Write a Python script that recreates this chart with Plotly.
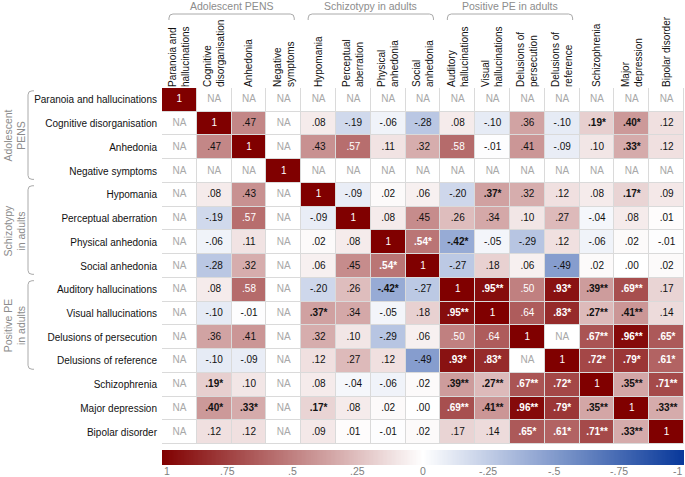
import numpy as np
import plotly.graph_objects as go

# ---------------- data ----------------
row_labels = [
    "Paranoia and hallucinations", "Cognitive disorganisation", "Anhedonia",
    "Negative symptoms", "Hypomania", "Perceptual aberration", "Physical anhedonia",
    "Social anhedonia", "Auditory hallucinations", "Visual hallucinations",
    "Delusions of persecution", "Delusions of reference", "Schizophrenia",
    "Major depression", "Bipolar disorder",
]
col_labels = [
    "Paranoia and<br>hallucinations", "Cognitive<br>disorganisation", "Anhedonia",
    "Negative<br>symptoms", "Hypomania", "Perceptual<br>aberration", "Physical<br>anhedonia",
    "Social<br>anhedonia", "Auditory<br>hallucinations", "Visual<br>hallucinations",
    "Delusions of<br>persecution", "Delusions of<br>reference", "Schizophrenia",
    "Major<br>depression", "Bipolar disorder",
]
group_names = ["Adolescent PENS", "Schizotypy in adults", "Positive PE in adults"]
group_side_names = ["Adolescent<br>PENS", "Schizotypy<br>in adults", "Positive PE<br>in adults"]
group_start = [0, 4, 8]
group_end = [3, 7, 11]

N = None
correlations = [
    [1, N, N, N, N, N, N, N, N, N, N, N, N, N, N],
    [N, 1, .47, N, .08, -.19, -.06, -.28, .08, -.10, .36, -.10, .19, .40, .12],
    [N, .47, 1, N, .43, .57, .11, .32, .58, -.01, .41, -.09, .10, .33, .12],
    [N, N, N, 1, N, N, N, N, N, N, N, N, N, N, N],
    [N, .08, .43, N, 1, -.09, .02, .06, -.20, .37, .32, .12, .08, .17, .09],
    [N, -.19, .57, N, -.09, 1, .08, .45, .26, .34, .10, .27, -.04, .08, .01],
    [N, -.06, .11, N, .02, .08, 1, .54, -.42, -.05, -.29, .12, -.06, .02, -.01],
    [N, -.28, .32, N, .06, .45, .54, 1, -.27, .18, .06, -.49, .02, .00, .02],
    [N, .08, .58, N, -.20, .26, -.42, -.27, 1, .95, .50, .93, .39, .69, .17],
    [N, -.10, -.01, N, .37, .34, -.05, .18, .95, 1, .64, .83, .27, .41, .14],
    [N, .36, .41, N, .32, .10, -.29, .06, .50, .64, 1, N, .67, .96, .65],
    [N, -.10, -.09, N, .12, .27, .12, -.49, .93, .83, N, 1, .72, .79, .61],
    [N, .19, .10, N, .08, -.04, -.06, .02, .39, .27, .67, .72, 1, .35, .71],
    [N, .40, .33, N, .17, .08, .02, .00, .69, .41, .96, .79, .35, 1, .33],
    [N, .12, .12, N, .09, .01, -.01, .02, .17, .14, .65, .61, .71, .33, 1],
]
E = ""
stars = [
    [E] * 15,
    [E, E, E, E, E, E, E, E, E, E, E, E, "*", "*", E],
    [E, E, E, E, E, E, E, E, E, E, E, E, E, "*", E],
    [E] * 15,
    [E, E, E, E, E, E, E, E, E, "*", E, E, E, "*", E],
    [E] * 15,
    [E, E, E, E, E, E, E, "*", "*", E, E, E, E, E, E],
    [E, E, E, E, E, E, "*", E, E, E, E, E, E, E, E],
    [E, E, E, E, E, E, "*", E, E, "**", E, "*", "**", "**", E],
    [E, E, E, E, "*", E, E, E, "**", E, E, "*", "**", "**", E],
    [E, E, E, E, E, E, E, E, E, E, E, E, "**", "**", "*"],
    [E, E, E, E, E, E, E, E, "*", "*", E, E, "*", "*", "*"],
    [E, "*", E, E, E, E, E, E, "**", "**", "**", "*", E, "**", "**"],
    [E, "*", "*", E, "*", E, E, E, "**", "**", "**", "*", "**", E, "**"],
    [E, E, E, E, E, E, E, E, E, E, "*", "*", "**", "**", E],
]
scale_ticks = [1, .75, .5, .25, 0, -.25, -.5, -.75, -1]
scale_tick_text = ["1", ".75", ".5", ".25", "0", "-.25", "-.5", "-.75", "-1"]

# ---------------- styling ----------------
FONT = "Liberation Sans, Arial, sans-serif"
colorscale = [[0.0, "#08389a"], [0.5, "#ffffff"], [1.0, "#800000"]]
W, H = 685, 477
GRID_L, GRID_R, GRID_T, PLOT_B = 162, 684, 88, 473   # page pixels
L, T = GRID_L, GRID_T
R = W - GRID_R
B = H - PLOT_B
PW, PH = GRID_R - GRID_L, PLOT_B - GRID_T


def py(p):  # page pixel y -> paper y
    return (PLOT_B - p) / PH


def px(p):  # page pixel x -> paper x
    return (p - GRID_L) / PW


def fmt(v):
    if v == 1:
        return "1"
    s = f"{v:.2f}"
    return s.replace("0.", ".", 1)


n = len(row_labels)
z = np.array([[np.nan if v is None else v for v in row] for row in correlations], dtype=float)
zcolor = np.where(np.isnan(z), 0.0, z)

tx, ty, tt, tc = [], [], [], []
for i in range(n):
    for j in range(n):
        v = correlations[i][j]
        tx.append(j)
        ty.append(i)
        if v is None:
            tt.append("NA")
            tc.append("#a8a8a8")
        else:
            s = fmt(v) + stars[i][j]
            if stars[i][j]:
                s = "<b>" + s + "</b>"
            tt.append(s)
            tc.append("#ffffff" if v >= 0.5 else "#111111")

fig = go.Figure()
fig.add_trace(go.Heatmap(
    z=zcolor, x=list(range(n)), y=list(range(n)),
    colorscale=colorscale, zmin=-1, zmax=1, showscale=False,
    xgap=1, ygap=1, hoverinfo="skip",
))
fig.add_trace(go.Scatter(
    x=tx, y=ty, mode="text", text=tt,
    textfont=dict(family=FONT, size=10, color=tc),
    hoverinfo="skip", showlegend=False,
))

# colour bar drawn as its own heatmap
cb_x = np.linspace(1, -1, 401)
fig.add_trace(go.Heatmap(
    z=[cb_x], x=cb_x, y=[0], colorscale=colorscale, zmin=-1, zmax=1,
    showscale=False, xaxis="x2", yaxis="y2", hoverinfo="skip",
))

main_bottom = py(444)
fig.update_layout(
    width=W, height=H,
    margin=dict(l=L, r=R, t=T, b=B),
    paper_bgcolor="white", plot_bgcolor="#dadada",
    font=dict(family=FONT, color="#111"),
    showlegend=False,
    xaxis=dict(
        domain=[0, 1], range=[-0.5, n - 0.5], side="top",
        tickmode="array", tickvals=list(range(n)), ticktext=col_labels,
        tickangle=-90, tickfont=dict(size=10, color="#111", family=FONT),
        showgrid=False, zeroline=False, ticks="", automargin=False,
        showline=False, anchor="y",
    ),
    yaxis=dict(
        domain=[main_bottom, 1], range=[n - 0.5, -0.5],
        tickmode="array", tickvals=list(range(n)), ticktext=row_labels,
        tickfont=dict(size=10, color="#111", family=FONT),
        showgrid=False, zeroline=False, ticks="", automargin=False,
        ticklabelstandoff=4, anchor="x",
    ),
    xaxis2=dict(domain=[0, 1], range=[1, -1], visible=False, anchor="y2"),
    yaxis2=dict(domain=[py(465), py(450)], range=[-0.5, 0.5], visible=False, anchor="x2"),
)

# colour-bar labels
for v, s in zip(scale_ticks, scale_tick_text):
    anchor = "center"
    if v == 1:
        anchor = "left"
    elif v == -1:
        anchor = "right"
    fig.add_annotation(
        x=v, xref="x2", y=py(471), yref="paper", text=s, showarrow=False,
        xanchor=anchor, yanchor="middle",
        font=dict(size=10.5, color="#808080", family=FONT),
    )

# group labels and brackets
gray = "#8c8c8c"
line_style = dict(color="#aaaaaa", width=1)
ins = 0.2
rx = 4 / (PW / n)
ry_top = 4 / PH
yl, ye = py(14), py(20)
for name, side, a, b in zip(group_names, group_side_names, group_start, group_end):
    # top
    x0, x1 = a - 0.5 + ins, b + 0.5 - ins
    path = (f"M {x0},{ye} L {x0},{yl - ry_top} Q {x0},{yl} {x0 + rx},{yl} "
            f"L {x1 - rx},{yl} Q {x1},{yl} {x1},{yl - ry_top} L {x1},{ye}")
    fig.add_shape(type="path", path=path, xref="x", yref="paper", line=line_style)
    fig.add_annotation(
        x=(a + b) / 2, xref="x", y=py(6), yref="paper", text=name, showarrow=False,
        xanchor="center", yanchor="middle", font=dict(size=10.5, color=gray, family=FONT),
    )
    # left side
    y0, y1 = a - 0.5 + 0.12, b + 0.5 - 0.15
    xl, xe = px(28), px(34)
    rxx = 4 / PW
    ryy = 4 / (PH * (1 - main_bottom) / n)
    path = (f"M {xe},{y0} L {xl + rxx},{y0} Q {xl},{y0} {xl},{y0 + ryy} "
            f"L {xl},{y1 - ryy} Q {xl},{y1} {xl + rxx},{y1} L {xe},{y1}")
    fig.add_shape(type="path", path=path, xref="paper", yref="y", line=line_style)
    fig.add_annotation(
        x=px(15), xref="paper", y=(a + b) / 2, yref="y", text=side, showarrow=False,
        textangle=-90, xanchor="center", yanchor="middle",
        font=dict(size=10.5, color=gray, family=FONT),
    )

fig.write_html("out.html", config={"displayModeBar": False},
               post_script="document.body.style.margin='0';")
